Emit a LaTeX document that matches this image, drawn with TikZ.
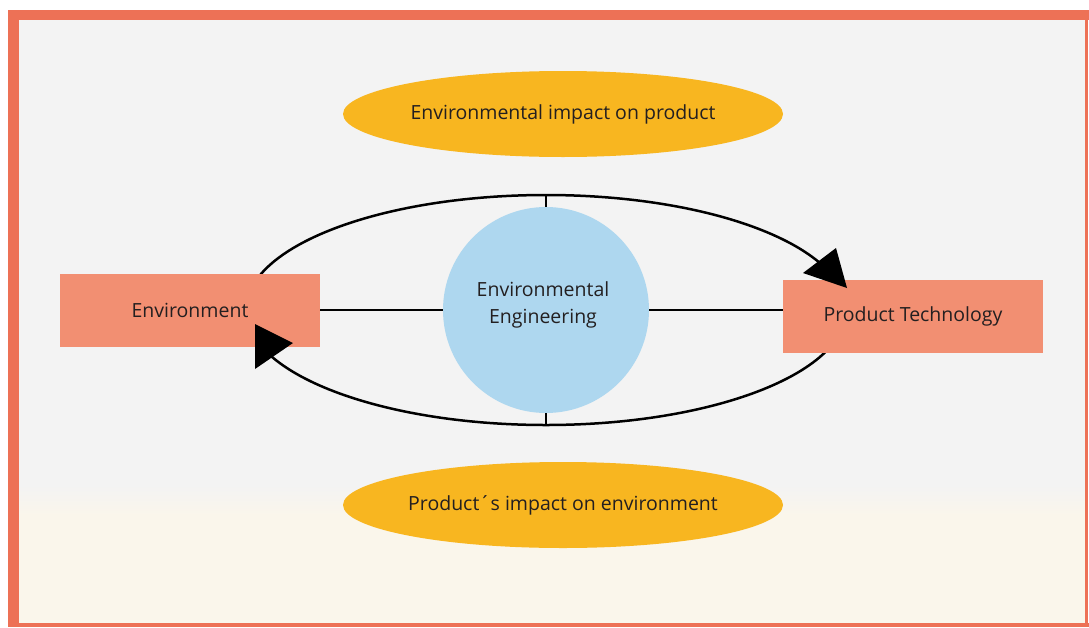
\documentclass[tikz,border=0pt]{standalone}
\usepackage{fontspec}
\setmainfont{Open Sans}
\usetikzlibrary{shapes.geometric}

\definecolor{framered}{RGB}{237,113,86}
\definecolor{impactorange}{RGB}{248,182,32}
\definecolor{blocksalmon}{RGB}{242,143,114}
\definecolor{engblue}{RGB}{174,215,239}
\definecolor{bgtop}{RGB}{243,243,243}
\definecolor{bgbottom}{RGB}{250,246,235}
\definecolor{textdark}{RGB}{35,31,32}

\begin{document}
\begin{tikzpicture}[x=1pt, y=-1pt,
    every node/.style={text=textdark, font=\fontsize{19.5}{27}\selectfont},
    impact/.style={ellipse, fill=impactorange, minimum width=440, minimum height=86, inner sep=0pt},
    block/.style={rectangle, fill=blocksalmon, minimum width=260, minimum height=73, inner sep=0pt},
    link/.style={line width=2pt},
    loopline/.style={line width=2.5pt}]
    \useasboundingbox (0,0) rectangle (1089,627);

    % Background and frame
    \fill[white] (0,0) rectangle (1089,627);
    \fill[bgtop] (19,20) rectangle (1085,485);
    \shade[top color=bgtop, bottom color=bgbottom] (19,485) rectangle (1085,515);
    \fill[bgbottom] (19,515) rectangle (1085,623);
    \fill[framered] (8,10) rectangle (1089,20);
    \fill[framered] (8,10) rectangle (19,627);
    \fill[framered] (1085,10) rectangle (1088,627);
    \fill[framered] (8,623) rectangle (1089,627);

    % Centre circle and the loop around it
    \node[circle, fill=engblue, minimum size=206, inner sep=0pt] (eng) at (546,310) {};
    \node[align=center] (englabel) at (543,305) {Environmental\\Engineering};
    \draw[loopline] (eng.center) ellipse [x radius=300, y radius=115];
    \draw[link] (eng.north) -- (eng.north |- 0,195);
    \draw[link] (eng.south) -- (eng.south |- 0,425);

    % Side blocks
    \node[block] (env) at (190,310) {Environment};
    \node[block] (tech) at (913,316) {Product Technology};
    \draw[link] (env.east |- eng.center) -- (eng.west);
    \draw[link] (eng.east) -- (eng.east -| tech.west);

    % Arrow heads on the loop
    \fill[black] (847,288) -- (803,273) -- (836,248) -- cycle;
    \fill[black] (293,343) -- (255,324) -- (255,369) -- cycle;

    % Impact labels
    \node[impact] (onproduct) at (563,114) {Environmental impact on product};
    \node[impact] (onenv) at (563,505) {Product´s impact on environment};
\end{tikzpicture}
\end{document}
